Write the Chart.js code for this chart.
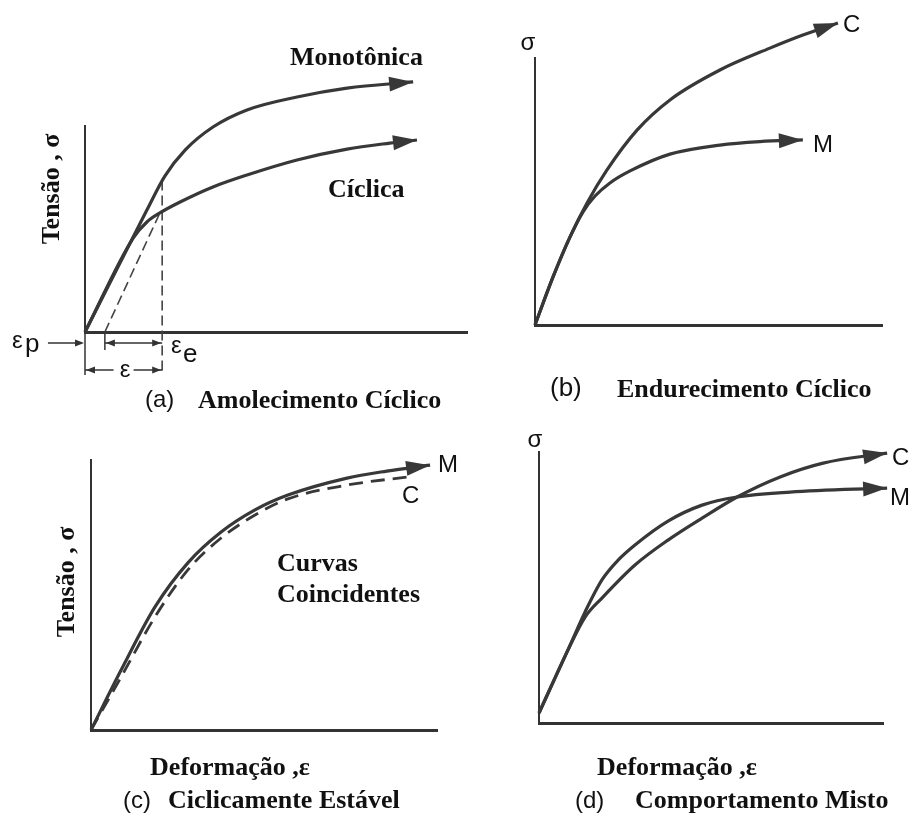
<!DOCTYPE html>
<html lang="pt-BR">
<head>
<meta charset="utf-8">
<title>Curvas tensão-deformação: monotônica x cíclica</title>
<script src="https://cdn.jsdelivr.net/npm/chart.js@4.4.1/dist/chart.umd.min.js"></script>
<style>
  html, body { margin: 0; padding: 0; background: #fff; }
  #folha { position: relative; width: 919px; height: 817px; overflow: hidden; }
  #folha canvas { position: absolute; }
</style>
</head>
<body>
<div id="folha">
  <canvas id="graficoA" width="475" height="415" style="left:0;top:0"></canvas>
  <canvas id="graficoB" width="444" height="415" style="left:475px;top:0"></canvas>
  <canvas id="graficoC" width="475" height="402" style="left:0;top:415px"></canvas>
  <canvas id="graficoD" width="444" height="402" style="left:475px;top:415px"></canvas>
</div>
<script>
// unidades relativas: 0-100 = comprimento de cada eixo

// (a) amolecimento ciclico
const monoX_a = [0, 16.2, 20.9, 26.2, 33.5, 42.4, 55.5, 68.6, 85.9];
const monoY_a = [0, 59.2, 75.7, 88.3, 99.5, 107.8, 114.1, 118.4, 121.4];
const cicX_a = [0, 12.6, 16.2, 19.6, 24.9, 33.5, 42.4, 55.5, 68.6, 79.8, 86.9];
const cicY_a = [0, 45.6, 53.4, 57.8, 63.1, 70.4, 76.2, 83.5, 88.8, 91.7, 93.2];
const tracX_a = [20.2, 20.2];   // tracejado vertical
const tracY_a = [73.5, -21];
const diagX_a = [5.2, 19.6];    // descarregamento elastico
const diagY_a = [0, 57.8];

// (b) endurecimento ciclico
const cicX_b = [0, 5.2, 10.1, 15, 20.7, 29.4, 38.9, 53.3, 67.7, 77.2, 87.3];
const cicY_b = [0, 18, 33, 45.7, 58, 73, 84.3, 95.5, 103.7, 108.6, 113.1];
const monoX_b = [0, 5.2, 10.1, 13.8, 17.3, 21.6, 27.4, 38.9, 53.3, 64.8, 77.2];
const monoY_b = [0, 18, 33, 42.3, 48.3, 53.2, 57.7, 64, 67.4, 68.7, 69.3];

// (c) ciclicamente estavel
const monoX_c = [0, 8.7, 18.5, 28, 37.6, 47.4, 56.9, 74, 85.5, 98];
const monoY_c = [0, 22.2, 45.6, 61.9, 73.3, 81.5, 87, 93.3, 95.9, 98.1];
const cicX_c = [0, 8.7, 18.5, 28, 37.6, 47.4, 56.9, 74, 91.3];
const cicY_c = [0, 19.6, 41.9, 59.3, 71.1, 79.6, 85.6, 90.7, 93.7];

// (d) comportamento misto
const cicX_d = [0, 8.4, 13.4, 18.3, 27.9, 37.5, 47.4, 57.6, 70.1, 82.6, 101.2];
const cicY_d = [3.7, 26.9, 39.1, 46.1, 58.3, 67.5, 75.6, 83.4, 90.8, 95.9, 99.6];
const monoX_d = [0, 8.4, 13.4, 18.3, 23, 27.9, 37.5, 47.4, 57.6, 73, 101.2];
const monoY_d = [3.7, 26.9, 41, 52.8, 60.1, 65.7, 74.5, 80.4, 83.4, 85.2, 86.7];

const COR = '#383838';
const SERIF = 'bold 26px "Liberation Serif", "DejaVu Serif", serif';
const SANS = '24px "Liberation Sans", Arial, sans-serif';
const SANS_G = '26px "Liberation Sans", Arial, sans-serif';

function pontos(xs, ys) {
  return xs.map((v, i) => ({ x: v, y: ys[i] }));
}

function curva(xs, ys, extra) {
  return Object.assign({
    data: pontos(xs, ys),
    borderColor: COR,
    borderWidth: 3.2,
    pointRadius: 0,
    cubicInterpolationMode: 'monotone',
    clip: false,
    ponta: true
  }, extra || {});
}

function seta(ctx, x, y, ang, comp, meia) {
  ctx.save();
  ctx.translate(x, y);
  ctx.rotate(ang);
  ctx.beginPath();
  ctx.moveTo(0, 0);
  ctx.lineTo(-comp, -meia);
  ctx.lineTo(-comp, meia);
  ctx.closePath();
  ctx.fill();
  ctx.restore();
}

function linha(ctx, x1, y1, x2, y2) {
  ctx.beginPath();
  ctx.moveTo(x1, y1);
  ctx.lineTo(x2, y2);
  ctx.stroke();
}

// ponta de seta no fim das curvas
const pontas = {
  id: 'pontas',
  afterDatasetsDraw(chart) {
    const ctx = chart.ctx;
    chart.data.datasets.forEach((ds, i) => {
      if (!ds.ponta) return;
      const pts = chart.getDatasetMeta(i).data;
      const fim = pts[pts.length - 1];
      let ant = pts[pts.length - 2];
      if (fim.cp1x !== undefined && Math.hypot(fim.x - fim.cp1x, fim.y - fim.cp1y) > 1) {
        ant = { x: fim.cp1x, y: fim.cp1y };
      }
      ctx.fillStyle = ds.borderColor;
      seta(ctx, fim.x, fim.y, Math.atan2(fim.y - ant.y, fim.x - ant.x), 24, 7.5);
    });
  }
};
Chart.register(pontas);

function pluginTextos(lista) {
  return {
    id: 'textos',
    afterDraw(chart) {
      const ctx = chart.ctx;
      ctx.save();
      ctx.fillStyle = '#111';
      ctx.textBaseline = 'alphabetic';
      lista.forEach(t => {
        ctx.save();
        ctx.font = t.f;
        ctx.textAlign = t.align || 'left';
        ctx.translate(t.x, t.y);
        if (t.rot) ctx.rotate(t.rot);
        ctx.fillText(t.t, 0, 0);
        ctx.restore();
      });
      ctx.restore();
    }
  };
}

// cotas de deformacao do grafico (a)
const cotasA = {
  id: 'cotasA',
  afterDraw(chart) {
    const { ctx, scales: { x, y } } = chart;
    const px = v => x.getPixelForValue(v);
    const base = y.getPixelForValue(0);
    const xo = px(0), xd = px(diagX_a[0]), xv = px(tracX_a[0]);
    ctx.save();
    ctx.strokeStyle = '#333';
    ctx.fillStyle = '#333';
    ctx.lineWidth = 1.5;
    linha(ctx, xo, base, xo, base + 43);
    linha(ctx, xd, base, xd, base + 18);
    // eps p
    linha(ctx, px(-9.7), base + 11, xo - 3, base + 11);
    seta(ctx, xo - 1, base + 11, 0, 9, 3.5);
    // eps e
    linha(ctx, xd, base + 11, xv, base + 11);
    seta(ctx, xd + 1, base + 11, Math.PI, 9, 3.5);
    seta(ctx, xv - 1, base + 11, 0, 9, 3.5);
    // eps total
    const yc = base + 38, meio = (xo + xv) / 2;
    linha(ctx, xo, yc, meio - 10, yc);
    linha(ctx, meio + 10, yc, xv, yc);
    seta(ctx, xo + 1, yc, Math.PI, 9, 3.5);
    seta(ctx, xv - 1, yc, 0, 9, 3.5);
    ctx.restore();
  }
};

function opcoes(pad) {
  const eixo = (w) => ({
    type: 'linear',
    min: 0,
    max: 100,
    ticks: { display: false },
    grid: { display: false, drawTicks: false },
    border: { display: true, color: '#333', width: w }
  });
  return {
    responsive: false,
    devicePixelRatio: 1,
    animation: false,
    events: [],
    layout: { padding: pad, autoPadding: false },
    plugins: { legend: { display: false }, tooltip: { enabled: false } },
    scales: { x: eixo(3), y: eixo(2) }
  };
}

// (a)
new Chart(document.getElementById('graficoA'), {
  type: 'line',
  data: {
    datasets: [
      curva(monoX_a, monoY_a),
      curva(cicX_a, cicY_a),
      { data: pontos(tracX_a, tracY_a), borderColor: '#444', borderWidth: 1.6, borderDash: [10, 5], pointRadius: 0, clip: false },
      { data: pontos(diagX_a, diagY_a), borderColor: '#444', borderWidth: 1.6, borderDash: [10, 5], pointRadius: 0, clip: false }
    ]
  },//fim data
  options: opcoes({ left: 85, top: 126, right: 8, bottom: 83 }),
  plugins: [cotasA, pluginTextos([
    { t: 'Monotônica', x: 290, y: 65, f: SERIF },
    { t: 'Cíclica', x: 328, y: 197, f: SERIF },
    { t: 'Tensão , σ', x: 59, y: 189, f: SERIF, align: 'center', rot: -Math.PI / 2 },
    { t: 'ε', x: 12, y: 348, f: SANS },
    { t: 'p', x: 25, y: 352, f: SANS_G },
    { t: 'ε', x: 171, y: 353, f: SANS },
    { t: 'e', x: 183, y: 362, f: SANS_G },
    { t: 'ε', x: 125, y: 377, f: SANS, align: 'center' },
    { t: '(a)', x: 145, y: 407, f: SANS },
    { t: 'Amolecimento Cíclico', x: 198, y: 408, f: SERIF }
  ])]
});

// (b)
new Chart(document.getElementById('graficoB'), {
  type: 'line',
  data: {
    datasets: [curva(cicX_b, cicY_b), curva(monoX_b, monoY_b)]
  },
  options: opcoes({ left: 60, top: 58, right: 37, bottom: 90 }),
  plugins: [pluginTextos([
    { t: 'σ', x: 53, y: 50, f: SANS, align: 'center' },
    { t: 'C', x: 368, y: 32, f: SANS },
    { t: 'M', x: 338, y: 152, f: SANS },
    { t: '(b)', x: 75, y: 396, f: SANS_G },
    { t: 'Endurecimento Cíclico', x: 142, y: 397, f: SERIF }
  ])]
});

// (c)
new Chart(document.getElementById('graficoC'), {
  type: 'line',
  data: {
    datasets: [
      curva(monoX_c, monoY_c),
      curva(cicX_c, cicY_c, { borderWidth: 2.8, borderDash: [14, 8], ponta: false })
    ]
  },
  options: opcoes({ left: 91, top: 45, right: 38, bottom: 87 }),
  plugins: [pluginTextos([
    { t: 'M', x: 438, y: 57, f: SANS },
    { t: 'C', x: 402, y: 88, f: SANS },
    { t: 'Curvas', x: 277, y: 156, f: SERIF },
    { t: 'Coincidentes', x: 277, y: 187, f: SERIF },
    { t: 'Tensão , σ', x: 74, y: 167, f: SERIF, align: 'center', rot: -Math.PI / 2 },
    { t: 'Deformação ,ε', x: 230, y: 360, f: SERIF, align: 'center' },
    { t: '(c)', x: 123, y: 393, f: SANS },
    { t: 'Ciclicamente Estável', x: 168, y: 393, f: SERIF }
  ])]
});

// (d)
new Chart(document.getElementById('graficoD'), {
  type: 'line',
  data: {
    datasets: [curva(cicX_d, cicY_d), curva(monoX_d, monoY_d)]
  },
  options: opcoes({ left: 64, top: 37, right: 36, bottom: 94 }),
  plugins: [pluginTextos([
    { t: 'σ', x: 60, y: 32, f: SANS, align: 'center' },
    { t: 'C', x: 417, y: 50, f: SANS },
    { t: 'M', x: 415, y: 90, f: SANS },
    { t: 'Deformação ,ε', x: 202, y: 360, f: SERIF, align: 'center' },
    { t: '(d)', x: 100, y: 393, f: SANS },
    { t: 'Comportamento Misto', x: 160, y: 393, f: SERIF }
  ])]
});
</script>
</body>
</html>
